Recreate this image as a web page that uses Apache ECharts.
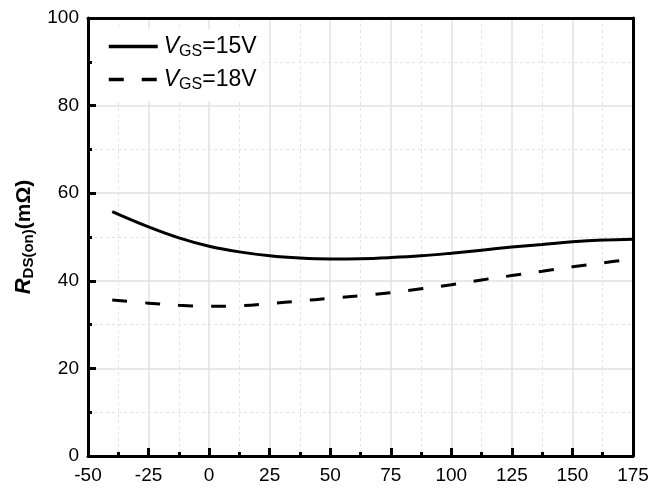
<!DOCTYPE html>
<html><head><meta charset="utf-8">
<script src="https://cdn.jsdelivr.net/npm/echarts@6/dist/echarts.min.js"></script>
<style>html,body{margin:0;padding:0;background:#fff}#c{width:666px;height:490px}</style>
</head><body><div id="c"></div>
<script>
const temps = [-40, -25, -12.5, 0, 12.5, 25, 37.5, 50, 62.5, 75, 87.5, 100, 112.5, 125, 137.5, 150, 162.5, 175];
const rds15 = [55.8, 52.3, 49.8, 47.9, 46.6, 45.7, 45.2, 45.0, 45.05, 45.3, 45.7, 46.3, 47.0, 47.7, 48.3, 48.9, 49.3, 49.5];
const rds18 = [35.6, 34.9, 34.4, 34.2, 34.3, 34.8, 35.4, 36.0, 36.6, 37.3, 38.2, 39.1, 40.2, 41.2, 42.2, 43.2, 44.1, 45.0];
const xTicks = [-50, 175, 25];
const yTicks = [0, 100, 20];
const seriesNames = ['VGS=15V', 'VGS=18V'];

const font = 'Liberation Sans, Arial, sans-serif';
const chart = echarts.init(document.getElementById('c'));
const pair = (ys) => temps.map((t, i) => [t, ys[i]]);
const legendRich = {
  i: {fontStyle: 'italic', fontSize: 23, fontFamily: font, color: '#000', lineHeight: 28},
  s: {fontSize: 16, fontFamily: font, color: '#000', lineHeight: 28, padding: [11, 0, 0, 0]},
  n: {fontSize: 23, fontFamily: font, color: '#000', lineHeight: 28}
};
chart.setOption({
  animation: false,
  grid: {left: 88, right: 33, top: 18, bottom: 34},
  legend: {
    left: 96, top: 29, orient: 'vertical', itemGap: 6, itemWidth: 49, itemHeight: 20,
    backgroundColor: '#fff', padding: [4, 6, 8, 11],
    data: seriesNames,
    itemStyle: {opacity: 0},
    lineStyle: {width: 3.5},
    formatter: (n) => '{i|V}{s|GS}{n|' + n.slice(3) + '}',
    textStyle: {rich: legendRich, padding: [0, 0, 0, 1]}
  },
  xAxis: [{
    type: 'value', min: xTicks[0], max: xTicks[1], interval: xTicks[2],
    axisLine: {show: true, onZero: false, lineStyle: {color: '#000', width: 3}},
    axisTick: {show: true, inside: true, length: 8, lineStyle: {color: '#000', width: 3}},
    minorTick: {show: true, splitNumber: 2, length: 4, lineStyle: {color: '#000', width: 3}},
    axisLabel: {color: '#000', fontSize: 19, fontFamily: font, margin: 10},
    splitLine: {show: true, lineStyle: {color: '#e2e2e2', width: 1.5}},
    minorSplitLine: {show: true, lineStyle: {color: '#e4e4e4', width: 1, type: [3, 3]}}
  }, {
    type: 'value', position: 'top', min: xTicks[0], max: xTicks[1],
    axisLine: {show: true, onZero: false, lineStyle: {color: '#000', width: 3}},
    axisTick: {show: false}, axisLabel: {show: false}, splitLine: {show: false}
  }],
  yAxis: [{
    type: 'value', min: yTicks[0], max: yTicks[1], interval: yTicks[2],
    name: '{r|R}{s|DS(on)}{n|(mΩ)}', nameLocation: 'middle', nameGap: 50, nameRotate: 90,
    nameTextStyle: {rich: {
      r: {fontStyle: 'italic', fontWeight: 'bold', fontSize: 22, fontFamily: font, color: '#000', lineHeight: 26},
      s: {fontWeight: 'bold', fontSize: 15, fontFamily: font, color: '#000', lineHeight: 26, padding: [10, 0, 0, 0]},
      n: {fontWeight: 'bold', fontSize: 21, fontFamily: font, color: '#000', lineHeight: 26}
    }},
    axisLine: {show: true, onZero: false, lineStyle: {color: '#000', width: 3}},
    axisTick: {show: true, inside: true, length: 8, lineStyle: {color: '#000', width: 3}},
    minorTick: {show: true, splitNumber: 2, length: 4, lineStyle: {color: '#000', width: 3}},
    axisLabel: {color: '#000', fontSize: 19, fontFamily: font, margin: 9},
    splitLine: {show: true, lineStyle: {color: '#e2e2e2', width: 1.5}},
    minorSplitLine: {show: true, lineStyle: {color: '#e4e4e4', width: 1, type: [3, 3]}}
  }, {
    type: 'value', position: 'right', min: yTicks[0], max: yTicks[1],
    axisLine: {show: true, onZero: false, lineStyle: {color: '#000', width: 3}},
    axisTick: {show: false}, axisLabel: {show: false}, splitLine: {show: false}
  }],
  series: [{
    name: seriesNames[0], type: 'line', data: pair(rds15), smooth: 0.4, showSymbol: false, symbol: 'none',
    lineStyle: {color: '#000', width: 3}, itemStyle: {color: '#000'}, z: 5
  }, {
    name: seriesNames[1], type: 'line', data: pair(rds18), smooth: 0.4, showSymbol: false, symbol: 'none',
    lineStyle: {color: '#000', width: 3, type: [15, 18]}, itemStyle: {color: '#000'}, z: 5
  }]
});
</script></body></html>
